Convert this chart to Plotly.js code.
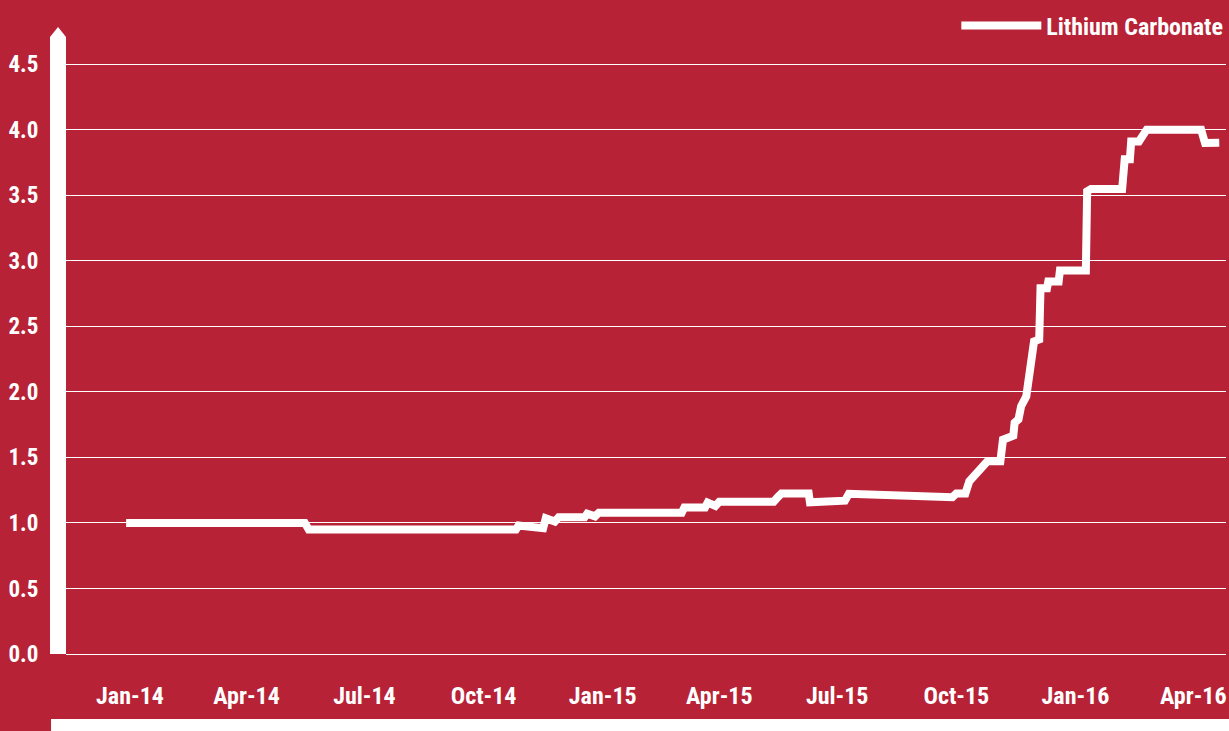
<!DOCTYPE html>
<html><head><meta charset="utf-8">
<script src="https://cdn.plot.ly/plotly-3.0.1.min.js"></script>
<style>html,body{margin:0;padding:0;background:#B82236;overflow:hidden}</style>
</head><body><div id="chart" style="width:1229px;height:731px"></div>
<script>
const seriesName = 'Lithium Carbonate';
const dates = ['2013-12-29','2014-05-16','2014-05-19','2014-10-26','2014-10-28','2014-11-16','2014-11-18','2014-11-25','2014-11-28','2014-12-18','2014-12-20','2014-12-26','2014-12-29','2015-03-03','2015-03-05','2015-03-21','2015-03-23','2015-03-29','2015-04-01','2015-05-13','2015-05-16','2015-05-19','2015-06-09','2015-06-10','2015-07-07','2015-07-10','2015-09-28','2015-10-01','2015-10-08','2015-10-11','2015-10-25','2015-11-04','2015-11-06','2015-11-14','2015-11-15','2015-11-18','2015-11-20','2015-11-24','2015-11-30','2015-12-04','2015-12-05','2015-12-10','2015-12-11','2015-12-19','2015-12-20','2016-01-09','2016-01-10','2016-01-13','2016-02-06','2016-02-08','2016-02-12','2016-02-13','2016-02-19','2016-02-25','2016-04-07','2016-04-10','2016-04-21'];
const prices = [1.00,1.00,0.95,0.95,0.98,0.96,1.035,1.01,1.043,1.043,1.07,1.05,1.078,1.078,1.118,1.118,1.155,1.13,1.162,1.162,1.195,1.225,1.225,1.157,1.17,1.222,1.196,1.225,1.225,1.317,1.47,1.47,1.635,1.665,1.765,1.79,1.89,1.965,2.385,2.40,2.79,2.79,2.842,2.842,2.925,2.925,3.53,3.547,3.547,3.775,3.775,3.91,3.91,4.00,4.00,3.898,3.90];
const tickDates = ['2014-01-01','2014-04-01','2014-07-01','2014-10-01','2015-01-01','2015-04-01','2015-07-01','2015-10-01','2016-01-01','2016-04-01'];
const tickLabels = ['Jan-14','Apr-14','Jul-14','Oct-14','Jan-15','Apr-15','Jul-15','Oct-15','Jan-16','Apr-16'];
const yTicks = [0,0.5,1,1.5,2,2.5,3,3.5,4,4.5];

const RED = '#B82236';
const FONT = 'Liberation Sans Narrow, Arial Narrow, Roboto Condensed, sans-serif';

const trace = {
  x: dates, y: prices, type: 'scatter', mode: 'lines', name: seriesName,
  line: {color: '#FFFFFF', width: 8}, hoverinfo: 'skip'
};

const layout = {
  width: 1229, height: 731,
  paper_bgcolor: RED, plot_bgcolor: RED,
  margin: {l: 66, r: 1, t: 37, b: 77, pad: 0},
  showlegend: true,
  legend: {x: 1.002, xanchor: 'right', y: 1.0178, yanchor: 'middle', orientation: 'h',
    bgcolor: 'rgba(0,0,0,0)', borderwidth: 0, itemwidth: 80,
    font: {family: FONT, size: 24, color: '#FFFFFF', weight: 'bold'}},
  xaxis: {
    type: 'date', range: ['2013-11-12 14:00', '2016-04-26 05:00'],
    tickmode: 'array', tickvals: tickDates, ticktext: tickLabels,
    showgrid: false, showline: false, zeroline: false, ticks: '',
    ticklabelstandoff: 25,
    tickfont: {family: FONT, size: 24, color: '#FFFFFF', weight: 'bold'}
  },
  yaxis: {
    range: [0, 4.707], tickmode: 'array', tickvals: yTicks, tickformat: '.1f',
    showgrid: true, gridcolor: '#FFFFFF', gridwidth: 1,
    zeroline: true, zerolinecolor: '#FFFFFF', zerolinewidth: 1,
    showline: true, linecolor: '#FFFFFF', linewidth: 16, ticks: '',
    ticklabelstandoff: 7,
    tickfont: {family: FONT, size: 23, color: '#FFFFFF', weight: 'bold'}
  },
  shapes: [
    {type: 'path', xref: 'paper', yref: 'paper',
     path: 'M -0.013769,0.998 L -0.013769,1 L -0.006885,1.01621 L 0,1 L 0,0.998 Z',
     fillcolor: '#FFFFFF', line: {width: 0}},
    {type: 'rect', xref: 'paper', yref: 'paper', x0: -0.0129, x1: 1.01, y0: -0.1054, y1: -0.2,
     fillcolor: '#FFFFFF', line: {width: 0}}
  ]
};

Plotly.newPlot('chart', [trace], layout, {staticPlot: true, displayModeBar: false});
</script></body></html>
